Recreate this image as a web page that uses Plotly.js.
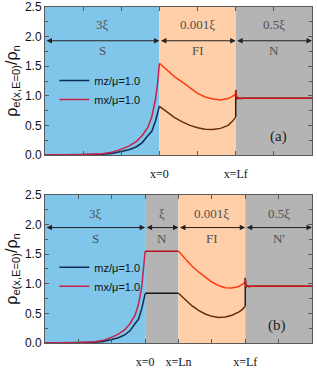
<!DOCTYPE html>
<html>
<head>
<meta charset="utf-8">
<script src="https://cdn.plot.ly/plotly-3.0.1.min.js"></script>
<style>html,body{margin:0;padding:0;background:#fff;}#chart{width:317px;height:368px;}</style>
</head>
<body>
<div id="chart"></div>
<script>
// ---------- data ----------
// Superconductor (S) region, shared shape for both panels (x in units of tick spacing)
const xS      = [-3, -2.5, -2, -1.5, -1.25, -1, -0.8, -0.6, -0.45, -0.3, -0.2, -0.1, -0.05, 0];
const mxS     = [0, 0.003, 0.008, 0.022, 0.045, 0.10, 0.15, 0.23, 0.33, 0.47, 0.65, 0.95, 1.20, 1.55];
const mzS     = [0, 0.002, 0.005, 0.013, 0.025, 0.055, 0.09, 0.14, 0.21, 0.33, 0.40, 0.58, 0.70, 0.83];

// Panel (a): S | FI | N
const xFI_a   = [0, 0.2, 0.4, 0.6, 0.8, 1.0, 1.2, 1.4, 1.6, 1.8, 1.9, 2.0];
const mxFI_a  = [1.55, 1.43, 1.32, 1.23, 1.14, 1.04, 0.98, 0.945, 0.93, 0.955, 0.985, 1.03];
const mzFI_a  = [0.82, 0.72, 0.63, 0.56, 0.50, 0.46, 0.435, 0.43, 0.45, 0.50, 0.56, 0.64];
const xN_a    = [2, 2, 2.02, 2.05, 2.1, 2.2, 4];
const mxN_a   = [1.03, 1.09, 0.95, 0.97, 0.955, 0.96, 0.96];
const mzN_a   = [0.64, 1.10, 0.94, 0.97, 0.955, 0.96, 0.96];

// Panel (b): S | N | FI | N'
const xN_b    = [0, 1];
const mxN_b   = [1.55, 1.55];
const mzN_b   = [0.84, 0.84];
const xFI_b   = [1, 1.2, 1.4, 1.6, 1.8, 2.0, 2.2, 2.4, 2.6, 2.8, 2.9, 3.0];
const mxFI_b  = [1.55, 1.42, 1.30, 1.20, 1.11, 1.03, 0.97, 0.935, 0.93, 0.955, 0.985, 1.025];
const mzFI_b  = [0.84, 0.73, 0.63, 0.55, 0.49, 0.45, 0.43, 0.44, 0.47, 0.52, 0.56, 0.62];
const xNp_b   = [3, 3, 3.02, 3.05, 3.1, 3.2, 5];
const mxNp_b  = [1.025, 1.09, 0.95, 0.97, 0.955, 0.96, 0.96];
const mzNp_b  = [0.62, 1.10, 0.94, 0.97, 0.955, 0.96, 0.96];

// region layout
const boundsA   = [-3, 0, 2, 4];
const topLabA   = ['3ξ', '0.001ξ', '0.5ξ'];
const botLabA   = ['S', 'FI', 'N'];
const fillA     = ['#80c6ea', '#fecfa8', '#b4b4b4'];
const boundsB   = [-3, 0, 1, 3, 5];
const topLabB   = ['3ξ', 'ξ', '0.001ξ', '0.5ξ'];
const botLabB   = ['S', 'N', 'FI', "N'"];
const fillB     = ['#80c6ea', '#b4b4b4', '#fecfa8', '#b4b4b4'];
const xTickValsA = [0, 2];
const xTickTextA = ['x=0', 'x=Lf'];
const xTickValsB = [0, 1, 3];
const xTickTextB = ['x=0', 'x=Ln', 'x=Lf'];
const seriesNames = ['mz/μ=1.0', 'mx/μ=1.0'];

// ---------- traces ----------
const W = 1.5;
function tr(x, y, color, xa, ya, name, legend) {
  const t = {x: x, y: y, type: 'scatter', mode: 'lines', xaxis: xa, yaxis: ya,
    line: {color: color, width: W}, hoverinfo: 'skip', showlegend: !!name};
  if (name) { t.name = name; t.legend = legend; }
  return t;
}
const NAVY = '#0d2b55', CRIM = '#c8204a';
const data = [
  // panel a
  tr(xS, mzS, NAVY, 'x', 'y', seriesNames[0], 'legend'),
  tr(xS, mxS, CRIM, 'x', 'y', seriesNames[1], 'legend'),
  tr(xFI_a, mzFI_a, '#6a2c08', 'x', 'y'),
  tr(xFI_a, mxFI_a, '#ff3b12', 'x', 'y'),
  tr(xN_a, mzN_a, '#3a1a10', 'x', 'y'),
  tr(xN_a, mxN_a, '#d01818', 'x', 'y'),
  // panel b
  tr(xS, mzS, NAVY, 'x2', 'y2', seriesNames[0], 'legend2'),
  tr(xS, mxS, CRIM, 'x2', 'y2', seriesNames[1], 'legend2'),
  tr(xN_b, mzN_b, '#151515', 'x2', 'y2'),
  tr(xN_b, mxN_b, '#b31020', 'x2', 'y2'),
  tr(xFI_b, mzFI_b, '#6a2c08', 'x2', 'y2'),
  tr(xFI_b, mxFI_b, '#ff3b12', 'x2', 'y2'),
  tr(xNp_b, mzNp_b, '#3a1a10', 'x2', 'y2'),
  tr(xNp_b, mxNp_b, '#d01818', 'x2', 'y2')
];

// ---------- shapes & annotations ----------
const shapes = [], annotations = [];
const SERIF = 'Liberation Serif, Times New Roman, serif';
function regions(bounds, fills, tops, bots, xr, yr, yTop, yArr, yBot) {
  for (let i = 0; i < fills.length; i++) {
    const x0 = bounds[i], x1 = bounds[i + 1], xm = (x0 + x1) / 2;
    shapes.push({type: 'rect', layer: 'below', xref: xr, yref: yr + ' domain', x0: x0, x1: x1, y0: 0, y1: 1,
      fillcolor: fills[i], line: {width: 0}});
    annotations.push({xref: xr, yref: yr, x: xm, y: yTop, text: tops[i], showarrow: false,
      font: {family: SERIF, size: 13, color: '#505050'}});
    annotations.push({xref: xr, yref: yr, x: xm, y: yBot, text: bots[i], showarrow: false,
      font: {family: SERIF, size: 13, color: '#505050'}});
    annotations.push({xref: xr, yref: yr, x: x1, y: yArr, axref: xr, ayref: yr, ax: x0, ay: yArr, text: '',
      showarrow: true, arrowside: 'end+start', arrowhead: 2, arrowsize: 1.1, arrowwidth: 1,
      arrowcolor: '#222', standoff: 0, startstandoff: 0});
  }
}
regions(boundsA, fillA, topLabA, botLabA, 'x', 'y', 2.2, 1.93, 1.76);
regions(boundsB, fillB, topLabB, botLabB, 'x2', 'y2', 2.19, 1.95, 1.76);
annotations.push({xref: 'x', yref: 'y', x: 3.13, y: 0.31, text: '(a)', showarrow: false,
  font: {family: SERIF, size: 15, color: '#222'}});
annotations.push({xref: 'x2', yref: 'y2', x: 3.96, y: 0.30, text: '(b)', showarrow: false,
  font: {family: SERIF, size: 15, color: '#222'}});

// ---------- axes ----------
const AX = '#5a5a5a';
function xax(range, vals, text, anchor) {
  return {range: range, anchor: anchor, showgrid: false, zeroline: false,
    showline: true, linecolor: AX, linewidth: 1, mirror: 'ticks',
    ticks: 'inside', ticklen: 4, tickcolor: AX, tickvals: vals, ticktext: text,
    ticklabelstandoff: 8, tickfont: {family: SERIF, size: 12, color: '#111'},
    minor: {dtick: 1, ticks: 'inside', ticklen: 4, tickcolor: AX, showgrid: false}};
}
function yax(domain, anchor) {
  return {domain: domain, anchor: anchor, range: [0, 2.5], showgrid: false, zeroline: false,
    showline: true, linecolor: AX, linewidth: 1, mirror: 'ticks',
    ticks: 'inside', ticklen: 4, tickcolor: AX, dtick: 0.5, tickformat: '.1f',
    tickfont: {family: 'Liberation Sans, Arial, sans-serif', size: 12, color: '#111'},
    minor: {dtick: 0.25, ticks: 'inside', ticklen: 3, tickcolor: AX, showgrid: false},
    title: {text: 'ρ<sub>e(x,E=0)</sub>/ρ<sub>n</sub>', standoff: 3,
      font: {family: 'Liberation Sans, Arial, sans-serif', size: 16, color: '#111'}},
    automargin: false};
}
const legendBase = {bgcolor: 'rgba(0,0,0,0)', borderwidth: 0, xanchor: 'left', yanchor: 'middle',
  font: {family: 'Liberation Sans, Arial, sans-serif', size: 11, color: '#111'}, tracegroupgap: 0};

const layout = {
  width: 317, height: 368,
  margin: {l: 45, r: 5, t: 7, b: 25},
  paper_bgcolor: '#fff', plot_bgcolor: '#fff',
  xaxis: xax([-3, 4], xTickValsA, xTickTextA, 'y'),
  yaxis: yax([0.5595, 1], 'x'),
  xaxis2: xax([-3, 5], xTickValsB, xTickTextB, 'y2'),
  yaxis2: yax([0, 0.4405], 'x2'),
  legend: Object.assign({}, legendBase, {x: 0.035, y: 0.753}),
  legend2: Object.assign({}, legendBase, {x: 0.035, y: 0.197}),
  shapes: shapes,
  annotations: annotations
};

Plotly.newPlot('chart', data, layout, {displayModeBar: false, staticPlot: true});
</script>
</body>
</html>
